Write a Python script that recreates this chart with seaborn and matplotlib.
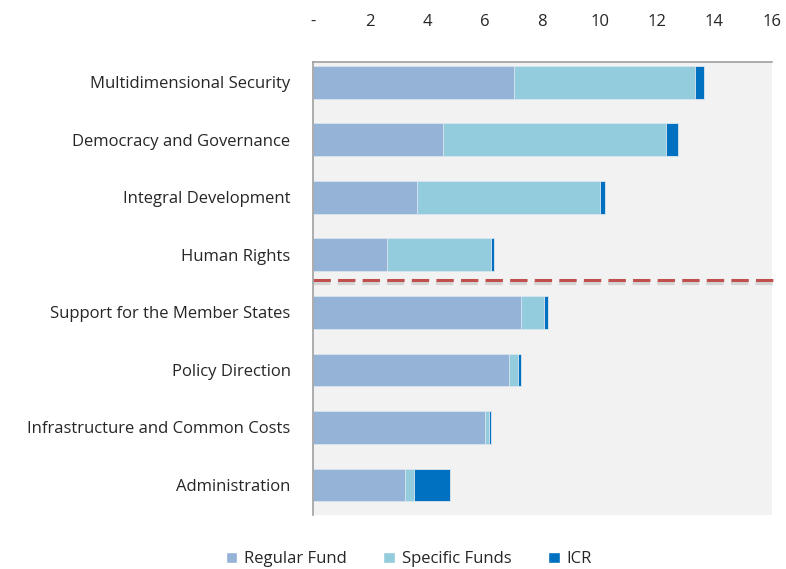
import seaborn as sns
import pandas as pd
import numpy as np
import matplotlib.pyplot as plt
from matplotlib.patches import Patch

categories = ["Multidimensional Security", "Democracy and Governance",
              "Integral Development", "Human Rights",
              "Support for the Member States", "Policy Direction",
              "Infrastructure and Common Costs", "Administration"]
regular_fund = [7.00, 4.54, 3.63, 2.58, 7.25, 6.83, 6.00, 3.22]
specific_funds = [6.33, 7.78, 6.37, 3.62, 0.80, 0.32, 0.14, 0.31]
icr = [0.29, 0.41, 0.17, 0.12, 0.16, 0.12, 0.07, 1.24]

series_names = ["Regular Fund", "Specific Funds", "ICR"]
colors = ["#95B3D7", "#93CDDD", "#0070C0"]
x_ticks = [0, 2, 4, 6, 8, 10, 12, 14, 16]
x_tick_labels = ["-", "2", "4", "6", "8", "10", "12", "14", "16"]

sns.set_theme(style="white")
plt.rcParams['font.family'] = ['Open Sans', 'DejaVu Sans']

df = pd.DataFrame({"category": categories, "Regular Fund": regular_fund,
                   "Specific Funds": specific_funds, "ICR": icr})
# cumulative ends for stacking
df["c1"] = df["Regular Fund"]
df["c2"] = df["c1"] + df["Specific Funds"]
df["c3"] = df["c2"] + df["ICR"]

fig = plt.figure(figsize=(7.86, 5.69), dpi=100)
ax = fig.add_axes([0.398, 0.095, 0.584, 0.796])
ax.set_facecolor("#F2F2F2")

# draw longest first so shorter segments sit on top
for col, color in zip(["c3", "c2", "c1"], colors[::-1]):
    sns.barplot(data=df, x=col, y="category", color=color, width=0.57,
                edgecolor="#DDE6F0", linewidth=0.6, ax=ax, orient="h",
                saturation=1)

ax.set_xlim(0, 16)
ax.set_ylim(7.52, -0.35)
ax.xaxis.tick_top()
ax.set_xticks(x_ticks)
ax.set_xticklabels(x_tick_labels)
ax.tick_params(axis="x", length=0, pad=23, labelsize=12, colors="#262626")
ax.tick_params(axis="y", length=0, pad=16, labelsize=12, colors="#262626")
ax.set_xlabel("")
ax.set_ylabel("")

for side in ["right", "bottom"]:
    ax.spines[side].set_visible(False)
for side in ["left", "top"]:
    ax.spines[side].set_color("#A0A0A0")
    ax.spines[side].set_linewidth(1.2)

# separator between programme and support areas, with a soft shadow
red_lw, shadow_lw = 2.2, 3.0
dash_on, dash_off = 12.5, 5.2  # in points
ax.axhline(3.49, xmin=0, xmax=1.008, color="#909090", lw=shadow_lw,
           ls=(0, (dash_on / shadow_lw, dash_off / shadow_lw)),
           alpha=0.3, clip_on=False)
ax.axhline(3.43, xmin=0, xmax=1.008, color="#C0504D", lw=red_lw,
           ls=(0, (dash_on / red_lw, dash_off / red_lw)), clip_on=False)

handles = [Patch(facecolor=c, label=n) for n, c in zip(series_names, colors)]
fig.legend(handles=handles, loc="center", bbox_to_anchor=(0.52, 0.017), ncol=3,
           frameon=False, fontsize=12, handlelength=0.7, handleheight=0.7,
           columnspacing=2.2, handletextpad=0.4, labelcolor="#262626")

fig.savefig("out.png", dpi=100)
